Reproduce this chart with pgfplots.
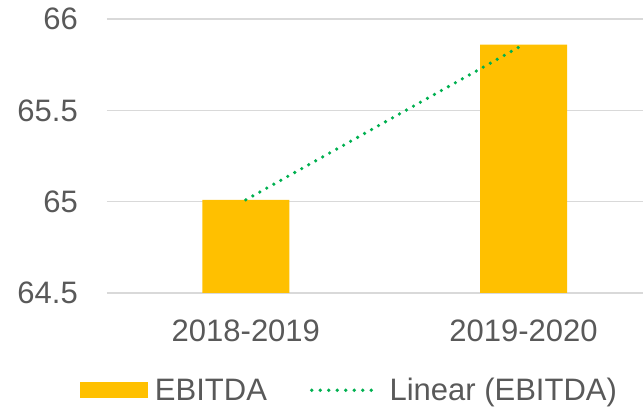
\documentclass[border=0pt]{standalone}
\usepackage{fontspec}
\setmainfont{Liberation Sans}
\usepackage{pgfplots}
\pgfplotsset{compat=1.18}
\definecolor{txt}{HTML}{595959}
\definecolor{barc}{HTML}{FFC000}
\definecolor{trend}{HTML}{00B050}
\definecolor{grd}{HTML}{D9D9D9}
\begin{document}
\begin{tikzpicture}
\useasboundingbox (0,0) rectangle (643pt,412pt);
\begin{axis}[
  at={(107pt,119pt)}, anchor=south west,
  scale only axis, width=536pt, height=274pt,
  xmin=-0.5, xmax=1.43, ymin=64.5, ymax=66,
  xtick={0,1}, xticklabels={2018-2019,2019-2020},
  ytick={64.5,65,65.5,66},
  ymajorgrids, grid style={grd, line width=1.3pt},
  axis line style={draw=none},
  major tick length=0pt,
  tick label style={font=\fontsize{31}{37}\selectfont, text=txt, inner sep=0pt},
  /pgf/number format/assume math mode=true,
  yticklabel shift=29pt, xticklabel shift=27pt,
  legend columns=2,
  legend cell align=left,
  legend style={draw=none, fill=none, inner sep=0pt, outer sep=0pt,
    at={(axis description cs:-0.0504,-0.355)}, anchor=west,
    nodes={inner sep=0pt, font=\fontsize{31}{37}\selectfont, text=txt},
    column sep=0pt,
    /tikz/every even column/.append style={column sep=43pt}},
]
\addplot[ybar, bar width=87pt, fill=barc, draw=none,
  legend image code/.code={\fill[barc] (0pt,-8pt) rectangle (68pt,8pt); \path (75pt,0pt);}]
  coordinates {(0,65.01) (1,65.86)};
\addplot[trend, line width=3.6pt, line cap=round, dash pattern=on 0pt off 8pt,
  legend image code/.code={\draw[trend, line width=3.6pt, line cap=round, dash pattern=on 0pt off 8.5pt] (0pt,0pt) -- (66pt,0pt); \path (76pt,0pt);}]
  coordinates {(0,65.01) (1,65.86)};
\legend{EBITDA, Linear (EBITDA)}
\end{axis}
\end{tikzpicture}
\end{document}
